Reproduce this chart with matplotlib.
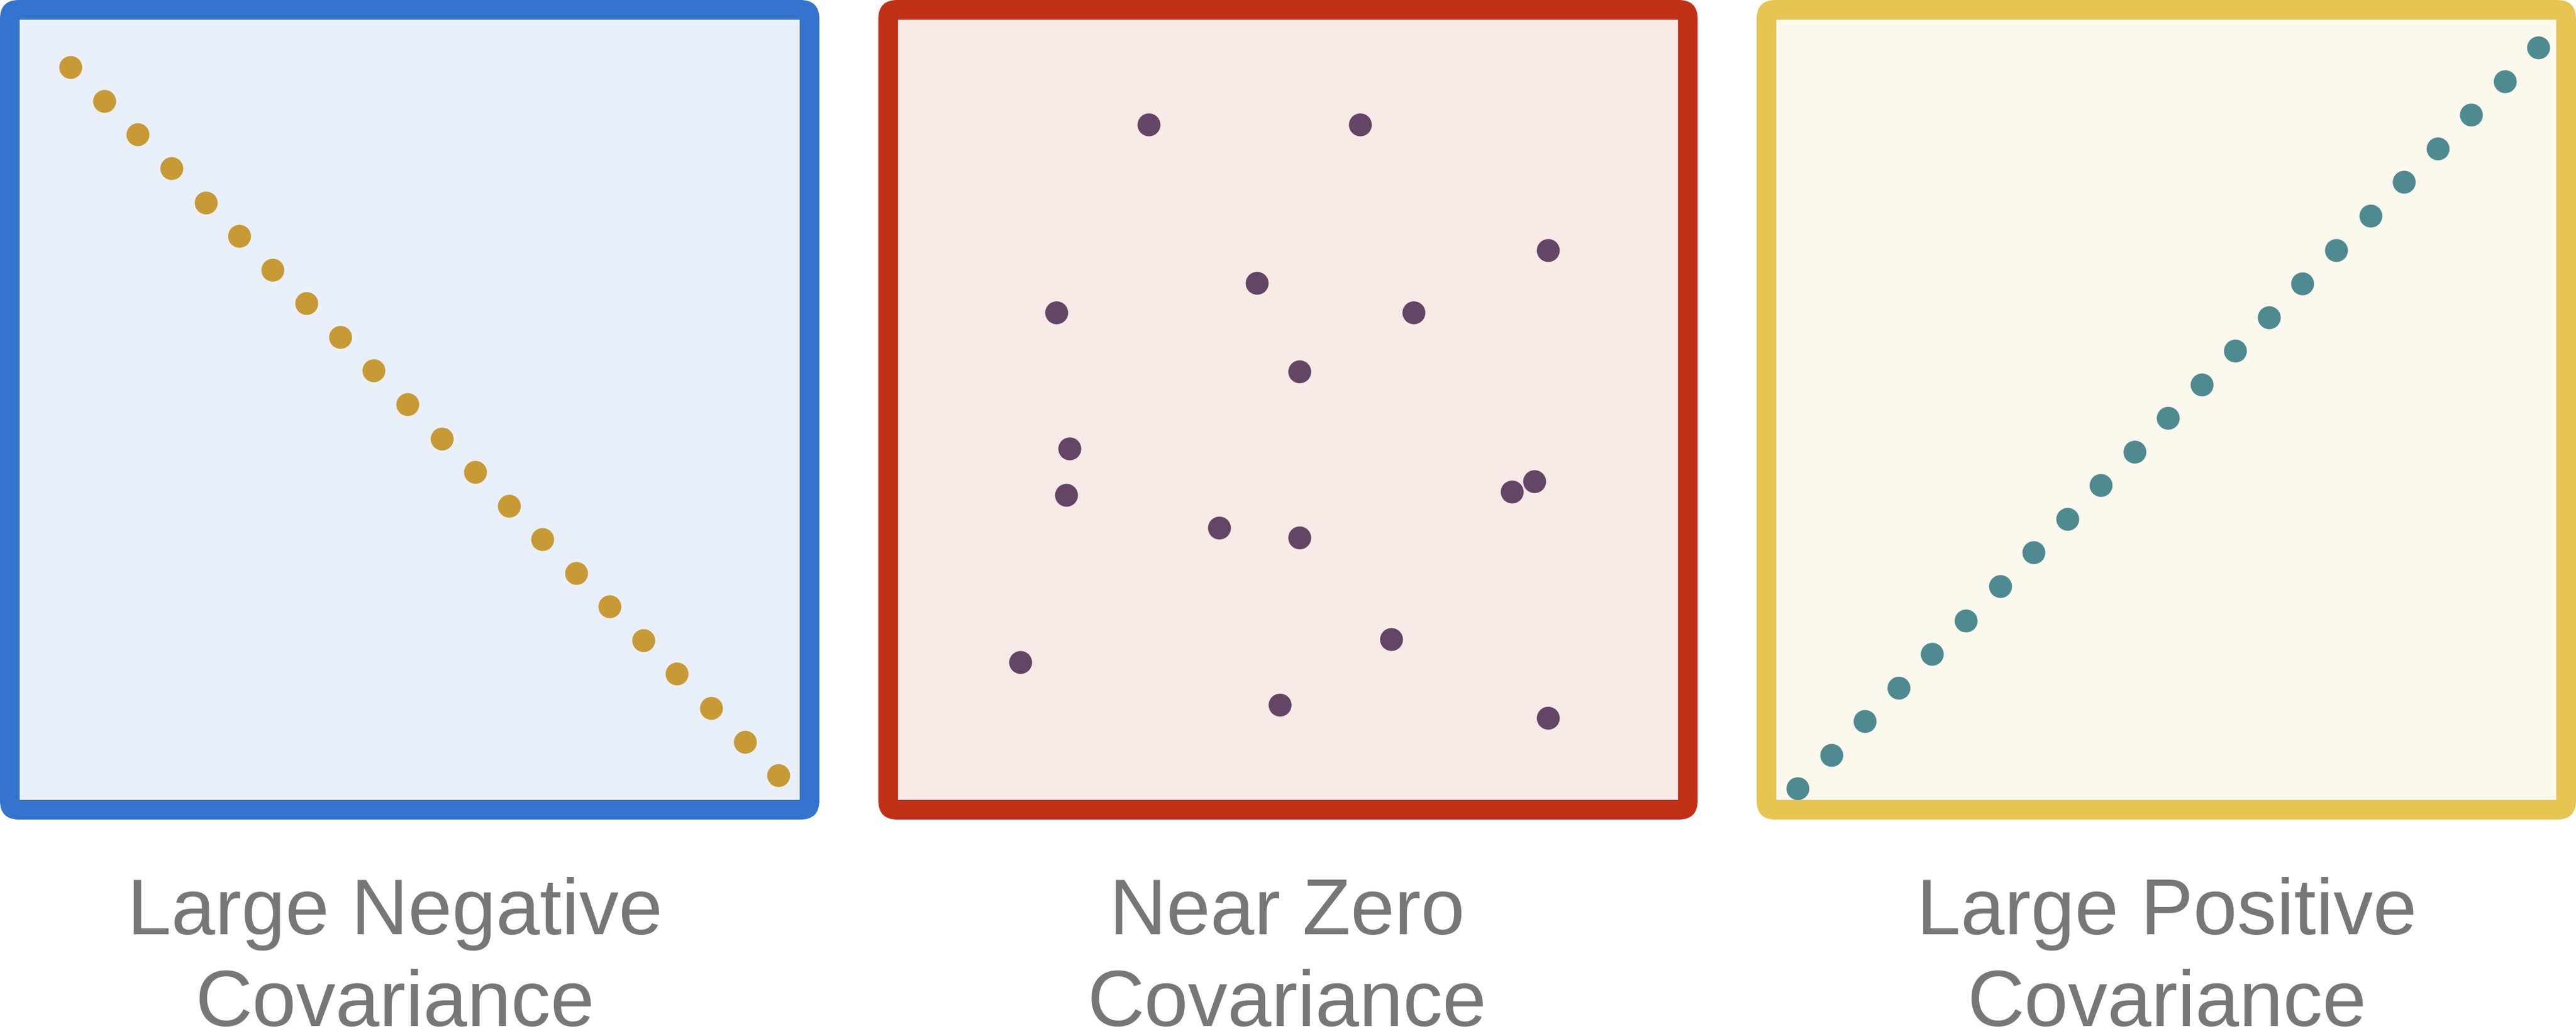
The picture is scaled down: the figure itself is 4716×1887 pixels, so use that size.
import matplotlib
matplotlib.use("Agg")
import matplotlib.pyplot as plt
from matplotlib.patches import FancyBboxPatch, Rectangle

# data (each panel uses a 0-100 coordinate box)
neg_x = [8.6, 12.7, 16.8, 20.9, 25.1, 29.2, 33.3, 37.4, 41.5, 45.6, 49.7,
         53.9, 58.0, 62.1, 66.2, 70.3, 74.4, 78.5, 82.6, 86.8, 90.9, 95.0]
neg_y = [91.8, 87.7, 83.6, 79.5, 75.3, 71.2, 67.1, 63.0, 58.9, 54.8, 50.7,
         46.5, 42.4, 38.3, 34.2, 30.1, 26.0, 21.9, 17.8, 13.6, 9.5, 5.4]

zero_x = [33.0, 58.8, 81.7, 21.7, 46.2, 65.3, 51.4, 23.3, 22.9, 77.3, 80.1,
          41.6, 51.4, 17.3, 62.6, 49.0, 81.7]
zero_y = [84.8, 84.8, 69.5, 61.9, 65.5, 61.9, 54.7, 45.3, 39.6, 40.0, 41.3,
          35.6, 34.4, 19.2, 22.0, 14.0, 12.4]

pos_x = [5.0, 9.1, 13.2, 17.3, 21.4, 25.5, 29.7, 33.8, 37.9, 42.0, 46.1, 50.2,
         54.3, 58.4, 62.5, 66.6, 70.7, 74.9, 79.0, 83.1, 87.2, 91.3, 95.4]
pos_y = [3.8, 7.9, 12.0, 16.1, 20.2, 24.3, 28.5, 32.6, 36.7, 40.8, 44.9, 49.0,
         53.1, 57.2, 61.3, 65.4, 69.5, 73.7, 77.8, 81.9, 86.0, 90.1, 94.2]

labels = [("Large Negative", "Covariance"),
          ("Near Zero", "Covariance"),
          ("Large Positive", "Covariance")]

panels = [
    (neg_x, neg_y, "#3574CE", "#E9F0FA", "#C89A35"),
    (zero_x, zero_y, "#C03017", "#F7EAE7", "#654565"),
    (pos_x, pos_y, "#E8C552", "#FBF9EE", "#4F8A91"),
]

W, H = 4716, 1887
fig = plt.figure(figsize=(W / 100, H / 100), dpi=100)
fig.patch.set_facecolor("white")

box = 1500
lefts = [0, 1608, 3216]
label_cx = [723, 2356, 3967]

for (xs, ys, edge, fill, dot), left, lab, cx in zip(panels, lefts, labels, label_cx):
    ax = fig.add_axes([left / W, (H - box) / H, box / W, box / H])
    ax.set_xlim(0, 100)
    ax.set_ylim(0, 100)
    ax.axis("off")
    # outer rounded frame + inner square fill
    ax.add_patch(FancyBboxPatch((0, 0), 100, 100,
                                boxstyle="round,pad=0,rounding_size=2.3",
                                facecolor=edge, edgecolor="none", zorder=1))
    ax.add_patch(Rectangle((2.4, 2.4), 95.2, 95.2,
                           facecolor=fill, edgecolor="none", zorder=2))
    ax.plot(xs, ys, "o", ms=30.2, color=dot, markeredgewidth=0, zorder=3)

    fig.text(cx / W, 1 - 1710 / H, lab[0], ha="center", va="baseline",
             fontsize=104, color="#777777", family="Liberation Sans")
    fig.text(cx / W, 1 - 1878 / H, lab[1], ha="center", va="baseline",
             fontsize=104, color="#777777", family="Liberation Sans")

fig.savefig("out.png", dpi=100, facecolor="white")
